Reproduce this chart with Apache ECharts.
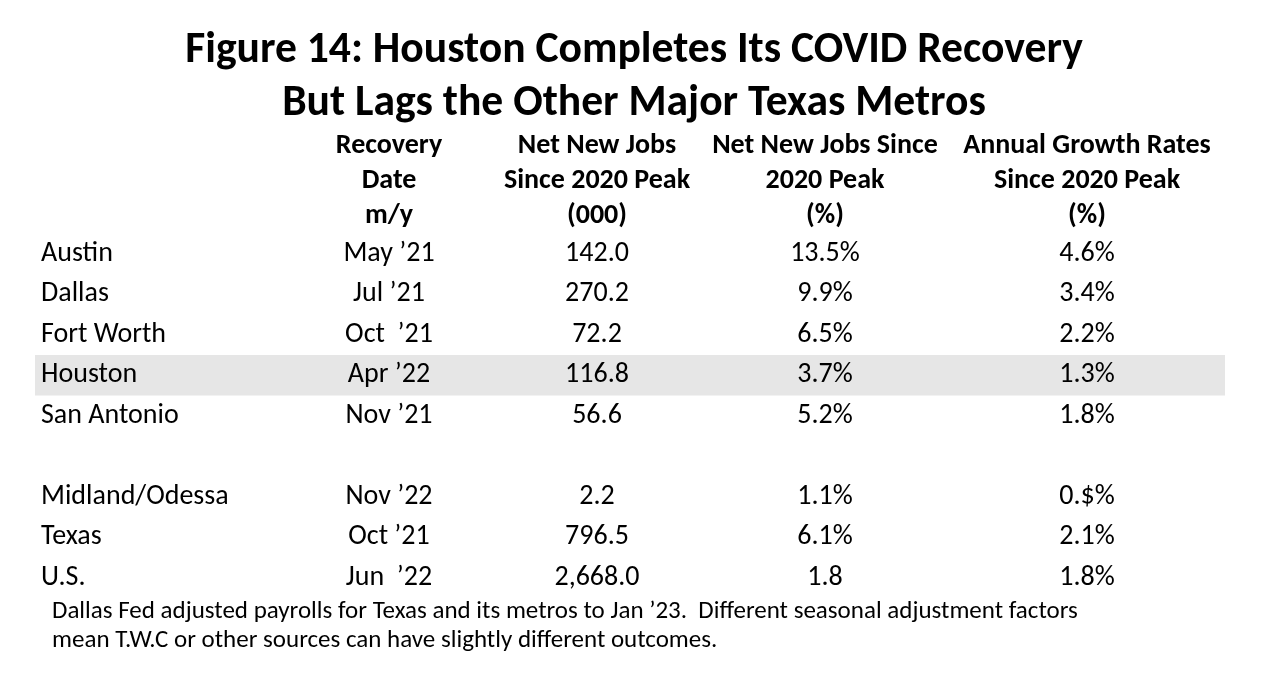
<!DOCTYPE html>
<html><head><meta charset="utf-8">
<script src="https://cdn.jsdelivr.net/npm/echarts@6/dist/echarts.min.js"></script>
<style>html,body{margin:0;padding:0;background:#fff}#c{width:1280px;height:682px}</style>
</head><body><div id="c"></div>
<script>
// ---- data ----
const metros = ['Austin','Dallas','Fort Worth','Houston','San Antonio','','Midland/Odessa','Texas','U.S.'];
const recoveryDates = ['May \u201921','Jul \u201921','Oct  \u201921','Apr \u201922','Nov \u201921','','Nov \u201922','Oct \u201921','Jun  \u201922'];
const netNewJobs = ['142.0','270.2','72.2','116.8','56.6','','2.2','796.5','2,668.0'];
const netNewPct = ['13.5%','9.9%','6.5%','3.7%','5.2%','','1.1%','6.1%','1.8'];
const annualGrowth = ['4.6%','3.4%','2.2%','1.3%','1.8%','','0.$%','2.1%','1.8%'];
const headers = [
  ['', '', ''],
  ['Recovery', 'Date', 'm/y'],
  ['Net New Jobs', 'Since 2020 Peak', '(000)'],
  ['Net New Jobs Since', '2020 Peak', '(%)'],
  ['Annual Growth Rates', 'Since 2020 Peak', '(%)']
];
const highlightRow = 'Houston';
const titleLines = ['Figure 14: Houston Completes Its COVID Recovery', 'But Lags the Other Major Texas Metros'];
const footnote = ['Dallas Fed adjusted payrolls for Texas and its metros to Jan \u201923.  Different seasonal adjustment factors',
                  'mean T.W.C or other sources can have slightly different outcomes.'];

// ---- layout ----
const FONT = 'Carlito, Calibri, Lato, sans-serif';
const COL_X = [41, 389, 597, 825, 1087];
const BAND_X = [35, 1225];

const columns = [metros, recoveryDates, netNewJobs, netNewPct, annualGrowth];
const rowsData = metros.map((m, i) => [0, i]);

const chart = echarts.init(document.getElementById('c'));
const headerGraphics = [];
headers.forEach((h, ci) => {
  h.forEach((line, li) => {
    if (!line) return;
    headerGraphics.push({
      type: 'text', x: COL_X[ci], y: 146 + li * 35,
      style: { text: line, font: 'bold 28px ' + FONT, fill: '#000', textAlign: 'center', textVerticalAlign: 'middle' }
    });
  });
});
titleLines.forEach((t, i) => headerGraphics.push({
  type: 'text', x: 634, y: 51 + i * 53,
  style: { text: t, font: 'bold 43.6px ' + FONT, fill: '#000', textAlign: 'center', textVerticalAlign: 'middle' }
}));
footnote.forEach((t, i) => headerGraphics.push({
  type: 'text', x: 52, y: 612 + i * 29,
  style: { text: t, font: '25px ' + FONT, fill: '#000', textAlign: 'left', textVerticalAlign: 'middle' }
}));

chart.setOption({
  animation: false,
  backgroundColor: '#fff',
  grid: { left: 0, right: 0, top: 233.5, bottom: 682 - 598 },
  xAxis: { type: 'value', min: 0, max: 1280, show: false },
  yAxis: { type: 'category', data: metros.map((m, i) => i), inverse: true, show: false },
  graphic: headerGraphics,
  series: [{
    type: 'custom',
    data: rowsData,
    renderItem: function (params, api) {
      const i = api.value(1);
      const c = api.coord([0, i]);
      const size = api.size([0, 1]);
      const h = size[1];
      const children = [];
      if (metros[i] === highlightRow) {
        const x0 = api.coord([BAND_X[0], i])[0];
        const x1 = api.coord([BAND_X[1], i])[0];
        children.push({ type: 'rect', shape: { x: x0, y: c[1] - h / 2, width: x1 - x0, height: h }, style: { fill: '#e6e6e6' } });
      }
      columns.forEach((col, ci) => {
        if (!col[i]) return;
        const x = api.coord([COL_X[ci], i])[0];
        children.push({
          type: 'text', x: x, y: c[1],
          style: { text: col[i], font: '28px ' + FONT, fill: '#000', textAlign: ci === 0 ? 'left' : 'center', textVerticalAlign: 'middle' }
        });
      });
      return { type: 'group', children: children };
    }
  }]
});
</script></body></html>
